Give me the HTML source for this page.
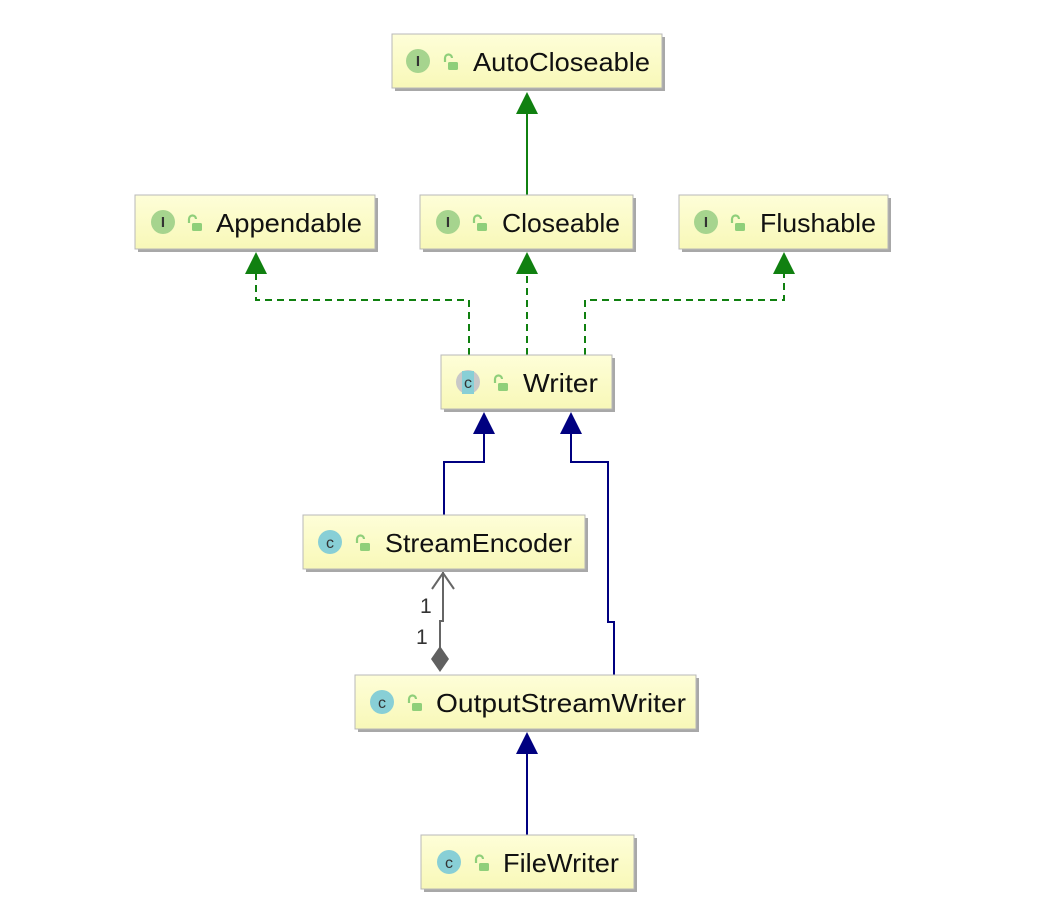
<!DOCTYPE html>
<html><head><meta charset="utf-8"><style>
body{margin:0;background:#fff}
svg{display:block}
text{font-family:"Liberation Sans",sans-serif}
</style></head><body>
<svg width="1064" height="900" viewBox="0 0 1064 900" xmlns="http://www.w3.org/2000/svg">
<defs>
<linearGradient id="g" x1="0" y1="0" x2="0" y2="1">
<stop offset="0" stop-color="#fefed8"/><stop offset="1" stop-color="#f8f8b8"/>
</linearGradient>
<g id="lock"><path d="M-5,-1 v-4 a3.5,3.5 0 0 1 7,0" fill="none" stroke="#8fcf7a" stroke-width="2.2"/><rect x="-2" y="-1" width="10" height="8" rx="1.5" fill="#8fcf7a"/></g>
</defs>

<g stroke="#108010" stroke-width="2" fill="none">
<line x1="527" y1="195" x2="527" y2="112"/>
<path d="M469,355 V300 H256 V272" stroke-dasharray="7,5"/>
<path d="M527,355 V272" stroke-dasharray="7,5"/>
<path d="M585,355 V300 H784 V272" stroke-dasharray="7,5"/>
</g>
<g fill="#108010">
<polygon points="527,92 516,114 538,114"/>
<polygon points="256,252 245,274 267,274"/>
<polygon points="527,252 516,274 538,274"/>
<polygon points="784,252 773,274 795,274"/>
</g>
<g stroke="#000080" stroke-width="2" fill="none">
<path d="M444,515 V462 H484 V432"/>
<path d="M614,675 V622 H608 V462 H571 V432"/>
<line x1="527" y1="835" x2="527" y2="752"/>
</g>
<g fill="#000080">
<polygon points="484,412 473,434 495,434"/>
<polygon points="571,412 560,434 582,434"/>
<polygon points="527,732 516,754 538,754"/>
</g>
<g stroke="#666" stroke-width="2" fill="none">
<path d="M443,572 V621 H440 V648"/>
<path d="M432,589 L443,573 L454,589"/>
</g>
<polygon points="440,646 449,659 440,672 431,659" fill="#606060"/>
<text x="420" y="613" font-size="21" fill="#333">1</text>
<text x="416" y="644" font-size="21" fill="#333">1</text>

<g font-size="26" fill="#111">
<rect x="395" y="37" width="270" height="54" fill="#a8a8a8"/>
<rect x="392" y="34" width="270" height="54" fill="url(#g)" stroke="#b8b8b8"/>
<circle cx="418" cy="61" r="12" fill="#a6d48e"/><text x="418" y="66" font-size="15" font-weight="bold" text-anchor="middle" fill="#333" font-family="Liberation Serif">I</text>
<use href="#lock" x="450" y="63"/>
<text x="473" y="71" textLength="177" lengthAdjust="spacingAndGlyphs">AutoCloseable</text>

<rect x="138" y="198" width="240" height="54" fill="#a8a8a8"/>
<rect x="135" y="195" width="240" height="54" fill="url(#g)" stroke="#b8b8b8"/>
<circle cx="163" cy="222" r="12" fill="#a6d48e"/><text x="163" y="227" font-size="15" font-weight="bold" text-anchor="middle" fill="#333" font-family="Liberation Serif">I</text>
<use href="#lock" x="194" y="224"/>
<text x="216" y="232" textLength="146" lengthAdjust="spacingAndGlyphs">Appendable</text>

<rect x="423" y="198" width="213" height="54" fill="#a8a8a8"/>
<rect x="420" y="195" width="213" height="54" fill="url(#g)" stroke="#b8b8b8"/>
<circle cx="448" cy="222" r="12" fill="#a6d48e"/><text x="448" y="227" font-size="15" font-weight="bold" text-anchor="middle" fill="#333" font-family="Liberation Serif">I</text>
<use href="#lock" x="479" y="224"/>
<text x="502" y="232" textLength="118" lengthAdjust="spacingAndGlyphs">Closeable</text>

<rect x="682" y="198" width="209" height="54" fill="#a8a8a8"/>
<rect x="679" y="195" width="209" height="54" fill="url(#g)" stroke="#b8b8b8"/>
<circle cx="706" cy="222" r="12" fill="#a6d48e"/><text x="706" y="227" font-size="15" font-weight="bold" text-anchor="middle" fill="#333" font-family="Liberation Serif">I</text>
<use href="#lock" x="737" y="224"/>
<text x="760" y="232" textLength="116" lengthAdjust="spacingAndGlyphs">Flushable</text>

<rect x="444" y="358" width="171" height="54" fill="#a8a8a8"/>
<rect x="441" y="355" width="171" height="54" fill="url(#g)" stroke="#b8b8b8"/>
<circle cx="468" cy="382" r="12" fill="#c8c8c8"/><rect x="462" y="371" width="12" height="23" fill="#88cfd6"/><text x="468" y="388" font-size="16" text-anchor="middle" fill="#333">c</text>
<use href="#lock" x="500" y="384"/>
<text x="523" y="392" textLength="75" lengthAdjust="spacingAndGlyphs">Writer</text>

<rect x="306" y="518" width="282" height="54" fill="#a8a8a8"/>
<rect x="303" y="515" width="282" height="54" fill="url(#g)" stroke="#b8b8b8"/>
<circle cx="330" cy="542" r="12" fill="#88cfd6"/><text x="330" y="548" font-size="16" text-anchor="middle" fill="#333">c</text>
<use href="#lock" x="362" y="544"/>
<text x="385" y="552" textLength="187" lengthAdjust="spacingAndGlyphs">StreamEncoder</text>

<rect x="358" y="678" width="341" height="54" fill="#a8a8a8"/>
<rect x="355" y="675" width="341" height="54" fill="url(#g)" stroke="#b8b8b8"/>
<circle cx="382" cy="702" r="12" fill="#88cfd6"/><text x="382" y="708" font-size="16" text-anchor="middle" fill="#333">c</text>
<use href="#lock" x="414" y="704"/>
<text x="436" y="712" textLength="250" lengthAdjust="spacingAndGlyphs">OutputStreamWriter</text>

<rect x="424" y="838" width="213" height="54" fill="#a8a8a8"/>
<rect x="421" y="835" width="213" height="54" fill="url(#g)" stroke="#b8b8b8"/>
<circle cx="449" cy="862" r="12" fill="#88cfd6"/><text x="449" y="868" font-size="16" text-anchor="middle" fill="#333">c</text>
<use href="#lock" x="481" y="864"/>
<text x="503" y="872" textLength="116" lengthAdjust="spacingAndGlyphs">FileWriter</text>
</g>
</svg>
</body></html>
